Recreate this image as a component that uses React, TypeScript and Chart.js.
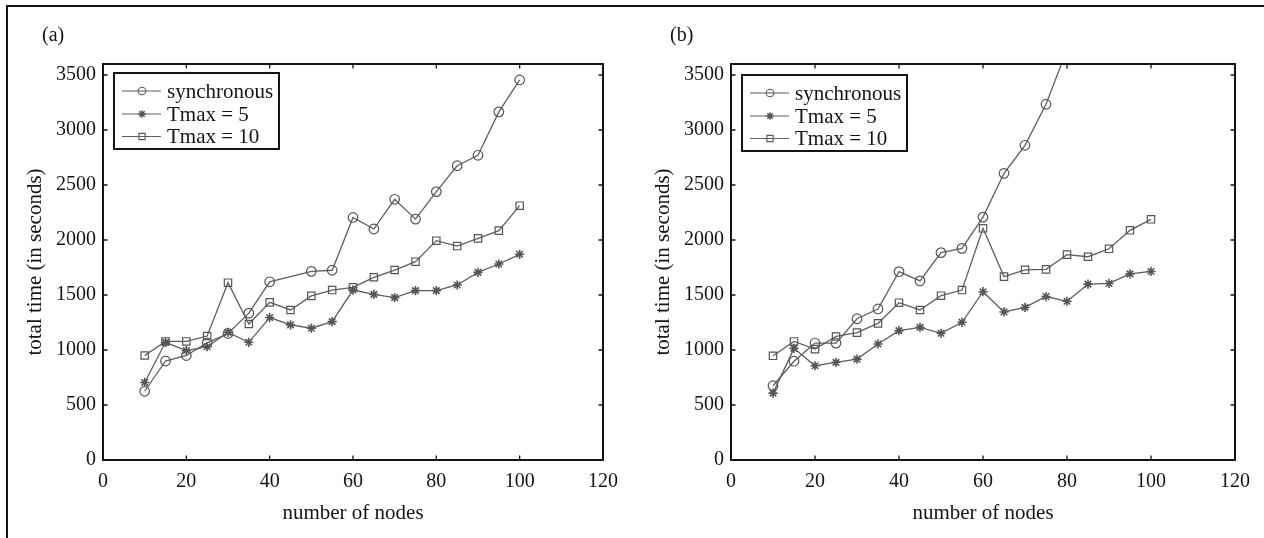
import React, { useEffect, useRef } from "react";
import { Chart, registerables } from "chart.js";

Chart.register(...registerables);

// ---------- data ----------
const nodes = [10, 15, 20, 25, 30, 35, 40, 45, 50, 55, 60, 65, 70, 75, 80, 85, 90, 95, 100];

const syncA = [625, 900, 950, 1065, 1150, 1335, 1620, null, 1715, 1725, 2205, 2100, 2370, 2190, 2440, 2675, 2770, 3165, 3455];
const tmax5A = [705, 1070, 995, 1030, 1160, 1070, 1295, 1228, 1198, 1258, 1545, 1506, 1476, 1540, 1540, 1591, 1706, 1782, 1870];
const tmax10A = [950, 1078, 1078, 1127, 1612, 1236, 1433, 1364, 1492, 1545, 1570, 1661, 1727, 1803, 1994, 1945, 2015, 2085, 2312];

const syncB = [675, 898, 1063, 1063, 1284, 1373, 1712, 1628, 1885, 1924, 2208, 2606, 2861, 3234, 3730, null, null, null, null];
const tmax5B = [608, 1015, 857, 888, 917, 1055, 1176, 1206, 1152, 1252, 1530, 1346, 1387, 1486, 1443, 1599, 1605, 1692, 1714];
const tmax10B = [947, 1078, 1008, 1123, 1158, 1242, 1430, 1364, 1494, 1545, 2106, 1667, 1729, 1733, 1867, 1848, 1920, 2088, 2188];

const xTicks = [0, 20, 40, 60, 80, 100, 120];
const yTicks = [0, 500, 1000, 1500, 2000, 2500, 3000, 3500];
const seriesNames = ["synchronous", "Tmax = 5", "Tmax = 10"];
const panelLabels = ["(a)", "(b)"];
const xTitle = "number of nodes";
const yTitle = "total time (in seconds)";

// ---------- styling ----------
const FONT = "'Liberation Serif', 'Times New Roman', serif";
const LINE = "#5e5e5e";
const MARK = "#555555";
const INK = "#141414";
const markerStyles = ["circle", "star", "rect"];
const markerRadius = [4.8, 4.6, 5.2];

function drawMarker(ctx, style, x, y, r) {
  ctx.beginPath();
  if (style === "circle") {
    ctx.arc(x, y, r, 0, Math.PI * 2);
  } else if (style === "rect") {
    const s = r * Math.SQRT1_2;
    ctx.rect(x - s, y - s, 2 * s, 2 * s);
  } else {
    for (let k = 0; k < 4; k++) {
      const ang = (k * Math.PI) / 4;
      const dx = Math.cos(ang) * r;
      const dy = Math.sin(ang) * r;
      ctx.moveTo(x - dx, y - dy);
      ctx.lineTo(x + dx, y + dy);
    }
  }
  ctx.stroke();
}

const decor = {
  id: "decor",
  afterDraw(chart, _args, opts) {
    const { ctx, chartArea: a, scales } = chart;
    const xs = scales.x;
    const ys = scales.y;
    ctx.save();
    // inward tick marks on all four sides
    ctx.strokeStyle = INK;
    ctx.lineWidth = 1.3;
    const L = 4.5;
    ctx.beginPath();
    xTicks.forEach((v) => {
      const p = xs.getPixelForValue(v);
      ctx.moveTo(p, a.bottom);
      ctx.lineTo(p, a.bottom - L);
      ctx.moveTo(p, a.top);
      ctx.lineTo(p, a.top + L);
    });
    yTicks.forEach((v) => {
      const p = ys.getPixelForValue(v);
      ctx.moveTo(a.left, p);
      ctx.lineTo(a.left + L, p);
      ctx.moveTo(a.right, p);
      ctx.lineTo(a.right - L, p);
    });
    ctx.stroke();
    // axes box
    ctx.lineWidth = 2;
    ctx.strokeRect(a.left, a.top, a.right - a.left, a.bottom - a.top);

    // legend
    const bx = a.left + 11;
    const by = a.top + opts.legendTop;
    const bw = 165;
    const bh = 76;
    ctx.fillStyle = "#ffffff";
    ctx.fillRect(bx, by, bw, bh);
    ctx.strokeStyle = INK;
    ctx.lineWidth = 2;
    ctx.strokeRect(bx, by, bw, bh);
    const rows = [18, 41, 63.5];
    seriesNames.forEach((name, i) => {
      const ry = by + rows[i];
      ctx.strokeStyle = LINE;
      ctx.lineWidth = 1.2;
      ctx.beginPath();
      ctx.moveTo(bx + 8, ry);
      ctx.lineTo(bx + 47, ry);
      ctx.stroke();
      ctx.strokeStyle = MARK;
      ctx.lineWidth = i === 1 ? 1.5 : 1.1;
      drawMarker(ctx, markerStyles[i], bx + 28, ry, i === 2 ? 4.4 : 3.8);
      ctx.fillStyle = INK;
      ctx.font = `21px ${FONT}`;
      ctx.textAlign = "left";
      ctx.textBaseline = "middle";
      ctx.fillText(name, bx + 53, ry + 1);
    });

    // panel label
    ctx.fillStyle = INK;
    ctx.font = `20px ${FONT}`;
    ctx.textAlign = "left";
    ctx.textBaseline = "alphabetic";
    ctx.fillText(opts.label, 42, 40.5);
    ctx.restore();
  },
};

function toPoints(arr) {
  return nodes
    .map((x, i) => ({ x, y: arr[i] }))
    .filter((p) => p.y !== null);
}

function makeConfig(series, label, rightPad, legendTop) {
  return {
    type: "line",
    data: {
      datasets: series.map((arr, i) => ({
        label: seriesNames[i],
        data: toPoints(arr),
        borderColor: LINE,
        borderWidth: 1.3,
        pointStyle: markerStyles[i],
        pointRadius: markerRadius[i],
        pointBorderColor: MARK,
        pointBorderWidth: i === 1 ? 1.6 : 1.2,
        pointBackgroundColor: "rgba(0,0,0,0)",
        fill: false,
        tension: 0,
        clip: 0,
      })),
    },
    options: {
      responsive: false,
      animation: false,
      devicePixelRatio: 1,
      layout: { padding: { left: 0, top: 64, right: rightPad, bottom: 0 } },
      plugins: {
        legend: { display: false },
        tooltip: { enabled: false },
        decor: { label, legendTop },
      },
      scales: {
        x: {
          type: "linear",
          position: "bottom",
          min: 0,
          max: 120,
          afterBuildTicks: (s) => {
            s.ticks = xTicks.map((v) => ({ value: v }));
          },
          afterFit: (s) => {
            s.height = 78;
          },
          grid: { display: false, drawTicks: false },
          border: { display: false },
          ticks: {
            color: INK,
            font: { family: FONT, size: 20 },
            padding: 10,
            maxRotation: 0,
            autoSkip: false,
            callback: (v) => String(v),
          },
          title: {
            display: true,
            text: xTitle,
            color: INK,
            font: { family: FONT, size: 21 },
            padding: { top: 0, bottom: 12 },
          },
        },
        y: {
          type: "linear",
          position: "left",
          min: 0,
          max: 3600,
          afterBuildTicks: (s) => {
            s.ticks = yTicks.map((v) => ({ value: v }));
          },
          afterFit: (s) => {
            s.width = 103;
          },
          grid: { display: false, drawTicks: false },
          border: { display: false },
          ticks: {
            color: INK,
            font: { family: FONT, size: 20 },
            padding: 7,
            autoSkip: false,
            callback: (v) => String(v),
          },
          title: {
            display: true,
            text: yTitle,
            color: INK,
            font: { family: FONT, size: 21 },
            padding: { top: 23, bottom: 0 },
          },
        },
      },
    },
    plugins: [decor],
  };
}

function Panel({ series, label, left, width, legendTop }) {
  const ref = useRef(null);
  useEffect(() => {
    const chart = new Chart(ref.current, makeConfig(series, label, width - 607, legendTop));
    return () => chart.destroy();
  }, []);
  return (
    <canvas
      ref={ref}
      width={width}
      height={538}
      style={{ position: "absolute", left, top: 0, width, height: 538 }}
    />
  );
}

export default function App() {
  return (
    <div
      style={{
        position: "absolute",
        left: 0,
        top: 0,
        width: 1264,
        height: 538,
        background: "#ffffff",
        overflow: "hidden",
      }}
    >
      <Panel series={[syncA, tmax5A, tmax10A]} label={panelLabels[0]} left={0} width={628} legendTop={9} />
      <Panel series={[syncB, tmax5B, tmax10B]} label={panelLabels[1]} left={628} width={636} legendTop={11} />
      <div style={{ position: "absolute", left: 6, top: 5, width: 1258, height: 2, background: INK }} />
      <div style={{ position: "absolute", left: 6, top: 5, width: 2, height: 533, background: INK }} />
    </div>
  );
}
